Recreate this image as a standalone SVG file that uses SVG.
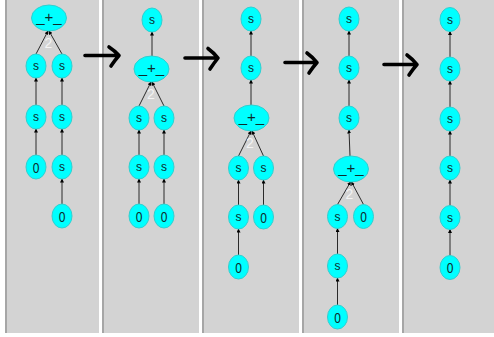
<svg xmlns="http://www.w3.org/2000/svg" width="494" height="337" viewBox="0 0 494 337">
  <style>
    .panel { fill: #d3d3d3; }
    .pedge { fill: #a6a6a6; }
    .node ellipse { fill: #00ffff; stroke: #2fd0d0; stroke-width: 1; }
    .node text { font-family: "Liberation Sans", Arial, sans-serif; fill: #0c2c2c; text-anchor: middle; }
    .s { font-size: 12px; }
    .z { font-size: 15px; }
    .op { font-size: 15px; }
    .cnt { font-family: "Liberation Sans", Arial, sans-serif; font-size: 14px; fill: #f4f4f4; text-anchor: middle; }
    .edge { stroke: #2a2a2a; stroke-width: 1; fill: none; marker-end: url(#dot); }
    .step { stroke: #000; stroke-width: 3.6; fill: none; stroke-linecap: round; stroke-linejoin: round; }
  </style>
  <defs>
    <marker id="dot" viewBox="0 0 4 4" refX="3.5" refY="2" markerWidth="4" markerHeight="4" markerUnits="userSpaceOnUse" orient="auto">
      <path d="M0,0 L4,2 L0,4 z" fill="#000"/>
    </marker>
  </defs>

  <rect width="494" height="337" fill="#ffffff"/>

  <!-- panels -->
  <g id="panels">
    <rect class="panel" x="5" y="0" width="94" height="333"/>
    <rect class="pedge" x="5" y="0" width="2" height="333"/>
    <rect class="panel" x="102" y="0" width="97" height="333"/>
    <rect class="pedge" x="102" y="0" width="2" height="333"/>
    <rect class="panel" x="202" y="0" width="97" height="333"/>
    <rect class="pedge" x="202" y="0" width="2" height="333"/>
    <rect class="panel" x="302" y="0" width="97" height="333"/>
    <rect class="pedge" x="302" y="0" width="2" height="333"/>
    <rect class="panel" x="402" y="0" width="92" height="333"/>
    <rect class="pedge" x="402" y="0" width="2" height="333"/>
  </g>

  <!-- rewrite steps -->
  <g id="steps">
    <path class="step" d="M85,55.5 H118 M109,47 Q115,51 119,55.5 Q115,60 111,66"/>
    <path class="step" d="M185,58 H217 M208,48.5 Q214,53 218,58 Q214,63 210,69"/>
    <path class="step" d="M285,62.5 H316 M307,53 Q313,57.5 317,62.5 Q313,67 309,73"/>
    <path class="step" d="M384,64.5 H416 M407,55 Q413,59.5 417,64.5 Q413,69 409,75"/>
  </g>

  <!-- connectors -->
  <g id="connectors">
    <!-- panel 1 -->
    <line class="edge" x1="36" y1="54" x2="48" y2="31"/>
    <line class="edge" x1="62" y1="54" x2="49" y2="31"/>
    <line class="edge" x1="36" y1="105" x2="36" y2="78"/>
    <line class="edge" x1="62" y1="105" x2="62" y2="78"/>
    <line class="edge" x1="36" y1="155" x2="36" y2="129"/>
    <line class="edge" x1="62" y1="155" x2="62" y2="129"/>
    <line class="edge" x1="62" y1="204" x2="62" y2="179"/>
    <!-- panel 2 -->
    <line class="edge" x1="152" y1="56" x2="152" y2="32"/>
    <line class="edge" x1="139" y1="106" x2="151" y2="82"/>
    <line class="edge" x1="164" y1="106" x2="152" y2="82"/>
    <line class="edge" x1="139" y1="155" x2="139" y2="130"/>
    <line class="edge" x1="164" y1="155" x2="164" y2="130"/>
    <line class="edge" x1="139" y1="204" x2="139" y2="179"/>
    <line class="edge" x1="164" y1="204" x2="164" y2="179"/>
    <!-- panel 3 -->
    <line class="edge" x1="251" y1="56" x2="251" y2="31"/>
    <line class="edge" x1="251" y1="105" x2="251" y2="80"/>
    <line class="edge" x1="238.5" y1="156" x2="251" y2="131"/>
    <line class="edge" x1="263.5" y1="156" x2="252" y2="131"/>
    <line class="edge" x1="238.5" y1="205" x2="238.5" y2="180"/>
    <line class="edge" x1="263.5" y1="205" x2="263.5" y2="180"/>
    <line class="edge" x1="238.5" y1="255" x2="238.5" y2="229"/>
    <!-- panel 4 -->
    <line class="edge" x1="349" y1="56" x2="349" y2="31"/>
    <line class="edge" x1="349" y1="106" x2="349" y2="80"/>
    <line class="edge" x1="350" y1="156" x2="349" y2="130"/>
    <line class="edge" x1="337.5" y1="204.5" x2="350.5" y2="182"/>
    <line class="edge" x1="363.5" y1="204.5" x2="351.5" y2="182"/>
    <line class="edge" x1="337.5" y1="254" x2="337.5" y2="228.5"/>
    <line class="edge" x1="337.5" y1="305" x2="337.5" y2="278"/>
    <!-- panel 5 -->
    <line class="edge" x1="450" y1="57" x2="450" y2="31.5"/>
    <line class="edge" x1="450" y1="107" x2="450" y2="81"/>
    <line class="edge" x1="450" y1="156" x2="450" y2="131"/>
    <line class="edge" x1="450" y1="205.5" x2="450" y2="180"/>
    <line class="edge" x1="450" y1="255.5" x2="450" y2="229.5"/>
  </g>

  <!-- panel 1 nodes -->
  <g id="p1-plus" class="node"><ellipse cx="49" cy="18" rx="17.5" ry="13"/><text class="op" x="49" y="22">_+_</text></g>
  <text class="cnt" x="48.5" y="48">2</text>
  <g id="p1-a1" class="node"><ellipse cx="36" cy="66" rx="10" ry="12"/><text class="s" x="36" y="70">s</text></g>
  <g id="p1-b1" class="node"><ellipse cx="62" cy="66" rx="10" ry="12"/><text class="s" x="62" y="70">s</text></g>
  <g id="p1-a2" class="node"><ellipse cx="36" cy="117" rx="10" ry="12"/><text class="s" x="36" y="121">s</text></g>
  <g id="p1-b2" class="node"><ellipse cx="62" cy="117" rx="10" ry="12"/><text class="s" x="62" y="121">s</text></g>
  <g id="p1-a3" class="node"><ellipse cx="36" cy="167" rx="10" ry="12"/><text class="z" transform="translate(36,172.5) scale(0.8,1)">0</text></g>
  <g id="p1-b3" class="node"><ellipse cx="62" cy="167" rx="10" ry="12"/><text class="s" x="62" y="171">s</text></g>
  <g id="p1-b4" class="node"><ellipse cx="62" cy="216" rx="10" ry="12"/><text class="z" transform="translate(62,221.5) scale(0.8,1)">0</text></g>

  <!-- panel 2 nodes -->
  <g id="p2-top" class="node"><ellipse cx="152" cy="20" rx="10" ry="12"/><text class="s" x="152" y="24">s</text></g>
  <g id="p2-plus" class="node"><ellipse cx="151.5" cy="69" rx="17.5" ry="13"/><text class="op" x="151.5" y="73">_+_</text></g>
  <text class="cnt" x="151" y="99">2</text>
  <g id="p2-a1" class="node"><ellipse cx="139" cy="118" rx="10" ry="12"/><text class="s" x="139" y="122">s</text></g>
  <g id="p2-b1" class="node"><ellipse cx="164" cy="118" rx="10" ry="12"/><text class="s" x="164" y="122">s</text></g>
  <g id="p2-a2" class="node"><ellipse cx="139" cy="167" rx="10" ry="12"/><text class="s" x="139" y="171">s</text></g>
  <g id="p2-b2" class="node"><ellipse cx="164" cy="167" rx="10" ry="12"/><text class="s" x="164" y="171">s</text></g>
  <g id="p2-a3" class="node"><ellipse cx="139" cy="216" rx="10" ry="12"/><text class="z" transform="translate(139,221.5) scale(0.8,1)">0</text></g>
  <g id="p2-b3" class="node"><ellipse cx="164" cy="216" rx="10" ry="12"/><text class="z" transform="translate(164,221.5) scale(0.8,1)">0</text></g>

  <!-- panel 3 nodes -->
  <g id="p3-s1" class="node"><ellipse cx="251" cy="19" rx="10" ry="12"/><text class="s" x="251" y="23">s</text></g>
  <g id="p3-s2" class="node"><ellipse cx="251" cy="68" rx="10" ry="12"/><text class="s" x="251" y="72">s</text></g>
  <g id="p3-plus" class="node"><ellipse cx="251.5" cy="118" rx="17.5" ry="13"/><text class="op" x="251.5" y="122">_+_</text></g>
  <text class="cnt" x="250" y="148">2</text>
  <g id="p3-a1" class="node"><ellipse cx="238.5" cy="168" rx="10" ry="12"/><text class="s" x="238.5" y="172">s</text></g>
  <g id="p3-b1" class="node"><ellipse cx="263.5" cy="168" rx="10" ry="12"/><text class="s" x="263.5" y="172">s</text></g>
  <g id="p3-a2" class="node"><ellipse cx="238.5" cy="217" rx="10" ry="12"/><text class="s" x="238.5" y="221">s</text></g>
  <g id="p3-b2" class="node"><ellipse cx="263.5" cy="217" rx="10" ry="12"/><text class="z" transform="translate(263.5,222.5) scale(0.8,1)">0</text></g>
  <g id="p3-a3" class="node"><ellipse cx="238.5" cy="267" rx="10" ry="12"/><text class="z" transform="translate(238.5,272.5) scale(0.8,1)">0</text></g>

  <!-- panel 4 nodes -->
  <g id="p4-s1" class="node"><ellipse cx="349" cy="19" rx="10" ry="12"/><text class="s" x="349" y="23">s</text></g>
  <g id="p4-s2" class="node"><ellipse cx="349" cy="68" rx="10" ry="12"/><text class="s" x="349" y="72">s</text></g>
  <g id="p4-s3" class="node"><ellipse cx="349" cy="118" rx="10" ry="12"/><text class="s" x="349" y="122">s</text></g>
  <g id="p4-plus" class="node"><ellipse cx="351" cy="169" rx="17.5" ry="13"/><text class="op" x="351" y="173">_+_</text></g>
  <text class="cnt" x="349.5" y="199">2</text>
  <g id="p4-a1" class="node"><ellipse cx="337.5" cy="216.5" rx="10" ry="12"/><text class="s" x="337.5" y="220.5">s</text></g>
  <g id="p4-b1" class="node"><ellipse cx="363.5" cy="216.5" rx="10" ry="12"/><text class="z" transform="translate(363.5,222) scale(0.8,1)">0</text></g>
  <g id="p4-a2" class="node"><ellipse cx="337.5" cy="266" rx="10" ry="12"/><text class="s" x="337.5" y="270">s</text></g>
  <g id="p4-a3" class="node"><ellipse cx="337.5" cy="317" rx="10" ry="12"/><text class="z" transform="translate(337.5,322.5) scale(0.8,1)">0</text></g>

  <!-- panel 5 nodes -->
  <g id="p5-s1" class="node"><ellipse cx="450" cy="19.5" rx="10" ry="12"/><text class="s" x="450" y="23.5">s</text></g>
  <g id="p5-s2" class="node"><ellipse cx="450" cy="69" rx="10" ry="12"/><text class="s" x="450" y="73">s</text></g>
  <g id="p5-s3" class="node"><ellipse cx="450" cy="119" rx="10" ry="12"/><text class="s" x="450" y="123">s</text></g>
  <g id="p5-s4" class="node"><ellipse cx="450" cy="168" rx="10" ry="12"/><text class="s" x="450" y="172">s</text></g>
  <g id="p5-s5" class="node"><ellipse cx="450" cy="217.5" rx="10" ry="12"/><text class="s" x="450" y="221.5">s</text></g>
  <g id="p5-z" class="node"><ellipse cx="450" cy="267.5" rx="10" ry="12"/><text class="z" transform="translate(450,273) scale(0.8,1)">0</text></g>
</svg>
